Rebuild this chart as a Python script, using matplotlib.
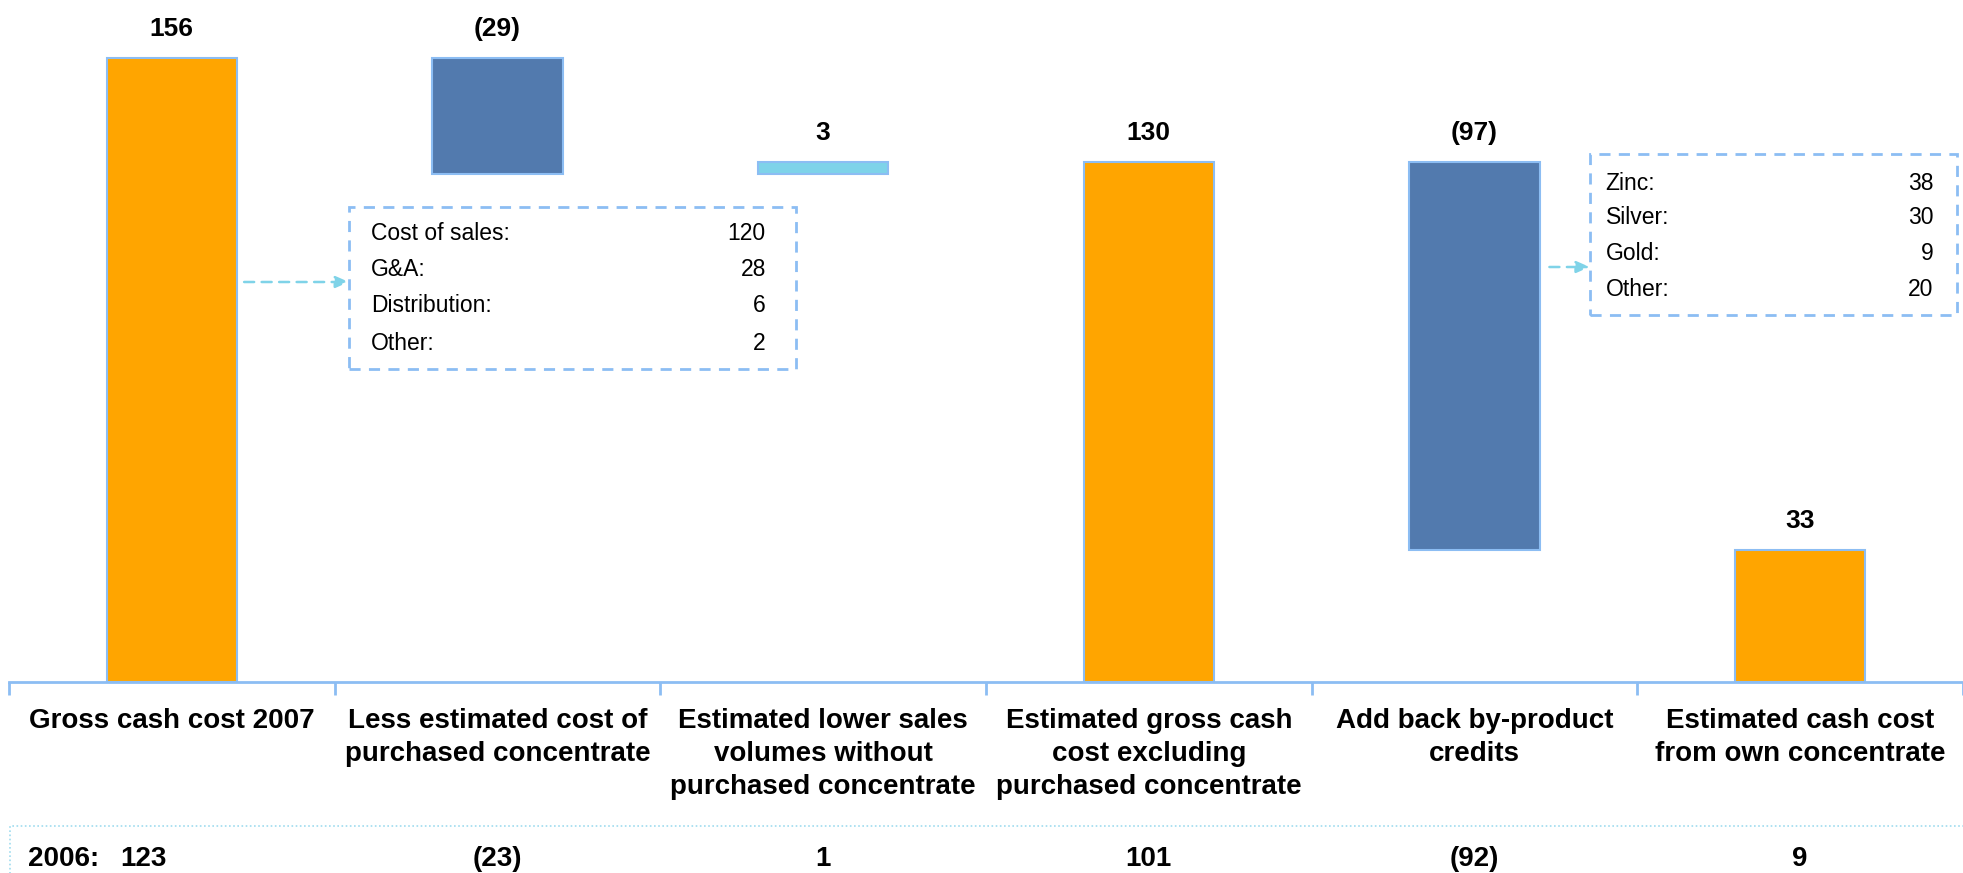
import matplotlib.pyplot as plt
from matplotlib.patches import Rectangle
import numpy as np

# ---------------- data ----------------
categories = ['Gross cash cost 2007',
              'Less estimated cost of\npurchased concentrate',
              'Estimated lower sales\nvolumes without\npurchased concentrate',
              'Estimated gross cash\ncost excluding\npurchased concentrate',
              'Add back by-product\ncredits',
              'Estimated cash cost\nfrom own concentrate']
values = [156, -29, 3, 130, -97, 33]
is_total = [True, False, False, True, False, True]
values_2006 = ['123', '(23)', '1', '101', '(92)', '9']

cost_items = ['Cost of sales:', 'G&A:', 'Distribution:', 'Other:']
cost_values = [120, 28, 6, 2]
credit_items = ['Zinc:', 'Silver:', 'Gold:', 'Other:']
credit_values = [38, 30, 9, 20]

# ---------------- style ----------------
ORANGE = '#FFA500'
STEEL = '#527AAE'
LIGHT = '#7ED3E9'
EDGE = '#8CBDF3'
ARROW = '#7FD3E8'
FONT = ['Liberation Sans', 'DejaVu Sans']
plt.rcParams['font.family'] = FONT

fig = plt.figure(figsize=(19.63, 8.73), dpi=100)
ax = fig.add_axes([9 / 1963, 191 / 873, 1954 / 1963, 682 / 873])

# waterfall bottoms
bottoms, heights, colors = [], [], []
running = 0
for v, tot in zip(values, is_total):
    if tot:
        bottoms.append(0)
        heights.append(v)
        colors.append(ORANGE)
        running = v
    else:
        bottoms.append(running + min(v, 0))
        heights.append(abs(v))
        colors.append(STEEL if v < 0 else LIGHT)
        running += v

x = np.arange(len(categories))
ax.bar(x, heights, bottom=bottoms, width=0.4, color=colors,
       edgecolor=EDGE, linewidth=1.5, zorder=3)

# value labels
for xi, v, b, h in zip(x, values, bottoms, heights):
    txt = str(v) if v >= 0 else f'({abs(v)})'
    ax.annotate(txt, (xi, b + h), xytext=(0, 21), textcoords='offset points',
                ha='center', va='center', fontsize=19, fontweight='bold')

ax.set_xlim(-0.5, 5.5)
ax.set_ylim(0, 170.5)
for s in ['top', 'right', 'left']:
    ax.spines[s].set_visible(False)
ax.spines['bottom'].set_color(EDGE)
ax.spines['bottom'].set_linewidth(2)
ax.set_yticks([])
ax.set_xticks(x, categories, fontsize=20, fontweight='bold', linespacing=1.33)
ax.set_xticks(np.arange(-0.5, 5.6, 1), minor=True)
ax.tick_params(axis='x', which='major', length=0, pad=19)
ax.tick_params(axis='x', which='minor', length=9, width=2, color=EDGE)

# callout boxes
def callout(x0, x1, y0, y1, items, vals, lx, rx, ys):
    ax.add_patch(Rectangle((x0, y0), x1 - x0, y1 - y0, fill=False,
                           edgecolor=EDGE, linewidth=2, linestyle=(0, (4, 3)),
                           zorder=4, clip_on=False))
    for it, vv, yy in zip(items, vals, ys):
        ax.text(lx, yy, it, ha='left', va='center', fontsize=16.5)
        ax.text(rx, yy, str(vv), ha='right', va='center', fontsize=16.5)

callout(0.544, 1.916, 78.25, 118.75, cost_items, cost_values,
        0.611, 1.824, [112, 103.25, 94.25, 84.75])
callout(4.354, 5.481, 91.75, 132, credit_items, credit_values,
        4.403, 5.41, [124.75, 116, 107.25, 98.25])

arrow_kw = dict(arrowstyle='-|>,head_length=0.8,head_width=0.35', color=ARROW,
                linestyle=(0, (4, 3)), linewidth=1.8, shrinkA=0, shrinkB=0)
ax.annotate('', xy=(0.544, 100), xytext=(0.222, 100), arrowprops=arrow_kw)
ax.annotate('', xy=(4.354, 103.75), xytext=(4.23, 103.75), arrowprops=arrow_kw)

# 2006 row
fig.patches.append(Rectangle((10 / 1963, -0.1), 1.0, 0.1 + 47 / 873,
                             transform=fig.transFigure, fill=False,
                             edgecolor='#9FDCEF', linewidth=1.2,
                             linestyle=(0, (1, 1.5))))
row_y = 14 / 873
fig.text(28 / 1963, row_y, '2006:', ha='left', va='center', fontsize=20,
         fontweight='bold')
for i, t in enumerate(values_2006):
    if i == 0:
        fig.text(120 / 1963, row_y, t, ha='left', va='center', fontsize=20,
                 fontweight='bold')
    else:
        xf = (9 + (i + 0.5) * 1954 / 6) / 1963
        fig.text(xf, row_y, t, ha='center', va='center', fontsize=20,
                 fontweight='bold')

fig.savefig('out.png', dpi=100)
